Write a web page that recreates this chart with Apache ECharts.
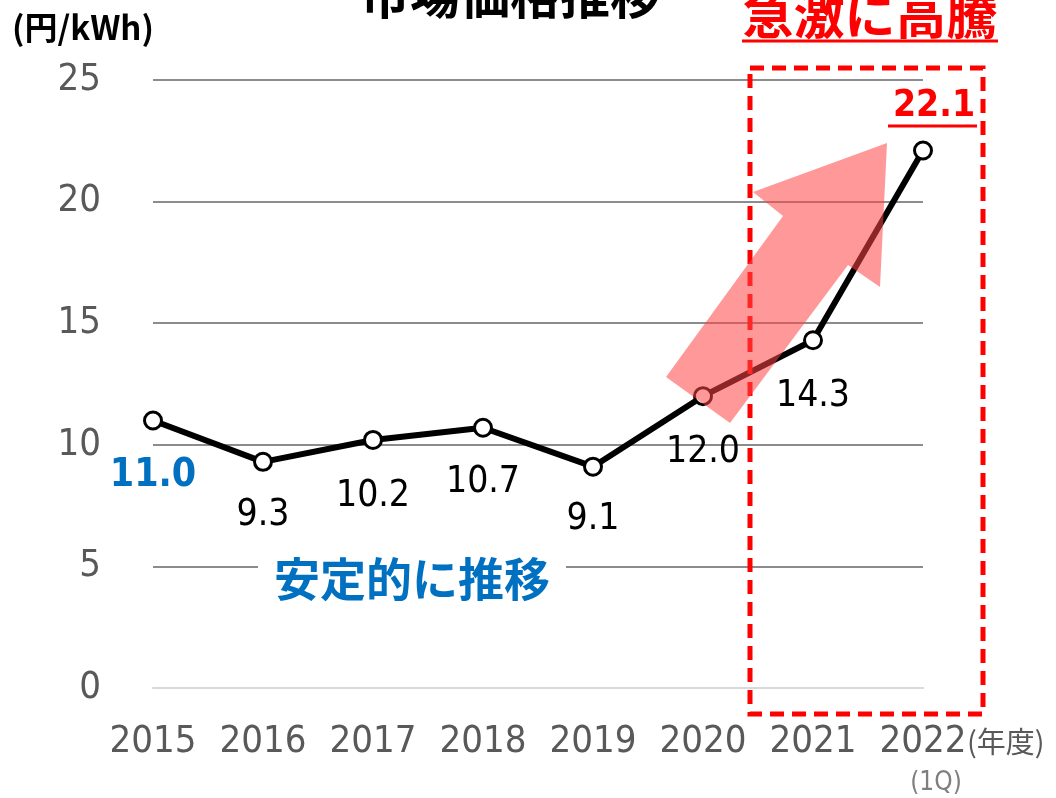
<!DOCTYPE html>
<html>
<head>
<meta charset="utf-8">
<script src="https://cdn.jsdelivr.net/npm/echarts@6/dist/echarts.min.js"></script>
<style>
  html, body { margin: 0; padding: 0; background: #fff; }
  #chart { width: 1056px; height: 798px; }
</style>
</head>
<body>
<div id="chart"></div>
<script>
// Wholesale market price by fiscal year (円/kWh)
const years = ["2015", "2016", "2017", "2018", "2019", "2020", "2021", "2022"];
const prices = [11.0, 9.3, 10.2, 10.7, 9.1, 12.0, 14.3, 22.1];
const yTicks = { min: 0, max: 25, interval: 5 };

// label placement per point, relative to the marker
const labelOffsets = [[0, 55], [0, 54], [0, 56], [0, 55], [0, 53], [0, 56], [0, 56], [11, -44]];

const JP = '"Noto Sans CJK JP", sans-serif';
const NUM = '"DejaVu Sans Condensed", "DejaVu Sans", sans-serif';

const chart = echarts.init(document.getElementById("chart"));

const seriesData = prices.map((v, i) => {
  const item = {
    value: v,
    label: { show: true, position: "inside", offset: labelOffsets[i], formatter: (p) => p.value.toFixed(1) },
  };
  if (i === 0) item.label.color = "#0070c0", item.label.fontWeight = "bold", item.label.fontSize = 39;
  if (i === prices.length - 1) item.label.color = "#ff0000", item.label.fontWeight = "bold";
  return item;
});

chart.setOption({
  animation: false,
  grid: { left: 153, right: 133, top: 80, bottom: 110 },
  xAxis: {
    type: "category",
    data: years,
    boundaryGap: false,
    axisTick: { show: false },
    axisLine: { lineStyle: { color: "#d9d9d9", width: 2 } },
    axisLabel: { color: "#595959", fontSize: 38, fontFamily: NUM, margin: 35, interval: 0, hideOverlap: false },
  },
  yAxis: {
    type: "value",
    min: yTicks.min,
    max: yTicks.max,
    interval: yTicks.interval,
    axisLine: { show: false },
    axisTick: { show: false },
    axisLabel: { color: "#595959", fontSize: 38, fontFamily: NUM, margin: 52 },
    splitLine: { lineStyle: { color: "#8c8c8c", width: 2 } },
  },
  series: [{
    type: "line",
    data: seriesData,
    symbol: "circle",
    symbolSize: 17,
    lineStyle: { color: "#000", width: 6 },
    itemStyle: { color: "#fff", borderColor: "#000", borderWidth: 3 },
    label: { color: "#000", fontSize: 37, fontFamily: NUM },
    z: 3,
  }],
  graphic: [
    { type: "text", left: 12, top: 11, style: { text: "(円/kWh)", font: `bold 33px ${JP}`, fill: "#000" } },
    { type: "text", x: 510, y: -5, style: { text: "市場価格推移", font: `bold 50px ${JP}`, fill: "#000", align: "center", verticalAlign: "middle" } },
    { type: "text", x: 870, y: 15, style: { text: "急激に高騰", font: `bold 51px ${JP}`, fill: "#ff0000", align: "center", verticalAlign: "middle" } },
    { type: "line", shape: { x1: 742, y1: 41, x2: 998, y2: 41 }, style: { stroke: "#ff0000", lineWidth: 3 } },
    { type: "line", shape: { x1: 888, y1: 126, x2: 977, y2: 126 }, style: { stroke: "#ff0000", lineWidth: 3 }, z: 10 },
    {
      type: "rect", shape: { x: 750, y: 68, width: 233, height: 646 },
      style: { fill: null, stroke: "#ff0000", lineWidth: 5, lineDash: [14, 8] }, z: 5,
    },
    {
      type: "polygon",
      shape: { points: [[666, 377], [783, 216], [753, 192], [887, 143], [880, 287], [848, 265], [730, 423]] },
      style: { fill: "rgba(255, 70, 70, 0.55)" }, z: 20,
    },
    {
      type: "text", x: 412, y: 579,
      style: {
        text: "安定的に推移", font: `bold 46px ${JP}`, fill: "#0070c0", align: "center", verticalAlign: "middle",
        backgroundColor: "#fff", padding: [0, 16],
      }, z: 10,
    },
    { type: "text", x: 967, y: 742, style: { text: "(年度)", font: `29px ${JP}`, fill: "#595959", verticalAlign: "middle" } },
    { type: "text", x: 936, y: 783, style: { text: "(1Q)", font: `26px ${NUM}`, fill: "#7f7f7f", align: "center", verticalAlign: "middle" } },
  ],
});
</script>
</body>
</html>
